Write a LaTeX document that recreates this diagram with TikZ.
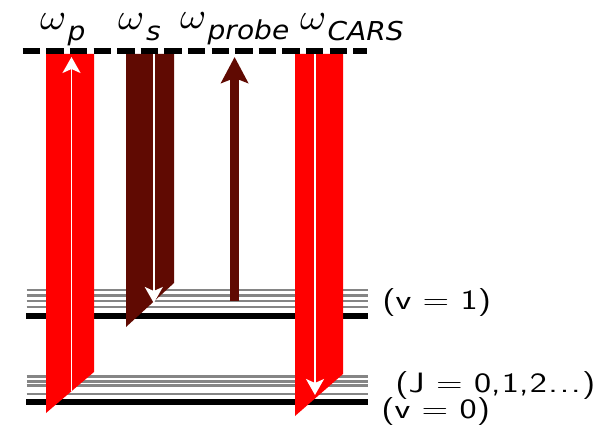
\documentclass[tikz,border=0pt]{standalone}
\usepackage{fontspec}
\usepackage{unicode-math}
\usetikzlibrary{arrows.meta}
\newfontfamily\omegafont{DejaVu Sans}
\definecolor{PumpRed}{HTML}{FF0000}
\definecolor{StokesRed}{HTML}{600A02}
\definecolor{RotGray}{HTML}{858585}
\tikzset{
  beam/.style={fill=#1,draw=none},
  rotline/.style={draw=RotGray,line width=2.5pt},
  vibline/.style={draw=black,line width=5.7pt},
  virtline/.style={draw=black,line width=5.6pt,dash pattern=on 17.4pt off 6.2pt},
  inarrow/.style={draw=white,line width=1.8pt,-{Stealth[length=16pt,width=18pt,inset=4pt]}},
  probearrow/.style={draw=StokesRed,line width=9pt,-{Stealth[length=26pt,width=27pt,inset=5pt]}},
  freqlabel/.style={anchor=base west,inner sep=0pt,xscale=1.08,font=\fontsize{26}{30}\omegafont\itshape},
  levellabel/.style={anchor=base west,inner sep=0pt,xscale=1.3,font=\fontsize{28}{30}\selectfont\sffamily}
}
\newcommand{\freq}[1]{{\fontsize{37}{37}\selectfont$\omega$}\kern2pt\raisebox{-11pt}{#1}}

\begin{document}
\begin{tikzpicture}[x=1pt,y=-1pt]
        \useasboundingbox (0,0) rectangle (599,427);
        \foreach \y in {290,295.5,301,307} \draw[rotline] (26.5,\y) -- (368,\y);
        \foreach \y in {376.3,381.7,385.3,394} \draw[rotline] (26.5,\y) -- (368,\y);
        \draw[vibline] (26,316) -- (368,316);
        \draw[vibline] (26,402) -- (368,402);
        \fill[beam=PumpRed] (46,54) -- (94,54) -- (94,372) -- (46,413) -- cycle;
        \fill[beam=StokesRed] (126,54) -- (174,54) -- (174,283) -- (126,327) -- cycle;
        \fill[beam=PumpRed] (295,54) -- (343,54) -- (343,374) -- (295,416) -- cycle;
        \coordinate (pumpend) at (71.5,391);
        \coordinate (pumptip) at (71.5,57);
        \coordinate (stokesend) at (153.8,54);
        \coordinate (stokestip) at (153.8,303);
        \coordinate (probeend) at (234.6,301);
        \coordinate (probetip) at (234.6,57);
        \coordinate (carsend) at (315,54);
        \coordinate (carstip) at (315,395);
        \draw[inarrow] (pumpend) -- (pumptip);
        \draw[inarrow] (stokesend) -- (stokestip);
        \draw[inarrow] (carsend) -- (carstip);
        \draw[probearrow] (probeend) -- (probetip);
        \draw[virtline] (22.7,51) -- (366.7,51);
        \node[freqlabel] (wp) at (40,30) {\freq{p}};
        \node[freqlabel] (ws) at (118.5,30) {\freq{s}};
        \node[freqlabel] (wprobe) at (180,29) {\freq{probe}};
        \node[freqlabel] (wcars) at (300,30) {\freq{CARS}};
        \node[levellabel] (vone) at (382,309) {(v = 1)};
        \node[levellabel] (jrot) at (395,392) {(J = 0,\kern1pt1,\kern1pt2\kern1pt.\kern1.5pt.\kern1.5pt.\kern1pt)};
        \node[levellabel] (vzero) at (381,418) {(v = 0)};
      \end{tikzpicture}
\end{document}
